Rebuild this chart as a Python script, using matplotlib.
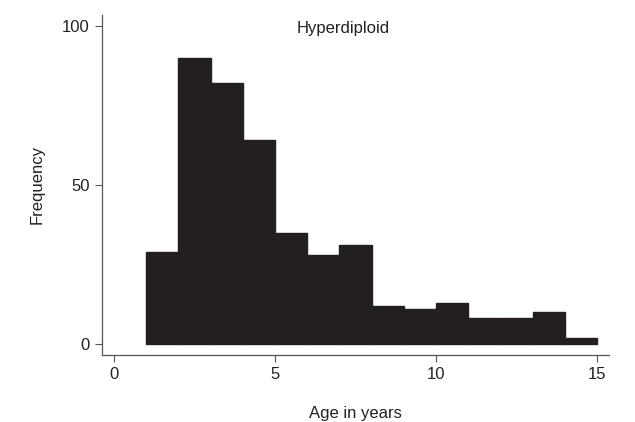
#!/usr/bin/env python3

"""Histogram of age at diagnosis, hyperdiploid group."""

import matplotlib
matplotlib.use("Agg")
import matplotlib.pyplot as plt

bin_left = [1, 2, 3, 4, 5, 6, 7, 8, 9, 10, 11, 12, 13, 14]
counts = [29, 90, 82, 64, 35, 28, 31, 12, 11, 13, 8, 8, 10, 2]
x_ticks = [0, 5, 10, 15]
y_ticks = [0, 50, 100]

plt.rcParams["font.family"] = ["Liberation Sans", "DejaVu Sans"]

fig = plt.figure(figsize=(6.35, 4.22), dpi=100)
ax = fig.add_axes([0.1606, 0.1588, 0.7984, 0.8057])

ax.bar(bin_left, counts, width=1.0, align="edge", color="#231f20",
       edgecolor="#231f20", linewidth=1.0)

ax.set_xlim(-0.37, 15.37)
ax.set_ylim(-3.5, 103.5)
ax.set_xticks(x_ticks)
ax.set_yticks(y_ticks)
ax.tick_params(axis="both", labelsize=12, length=5, width=0.8,
               color="#555555", labelcolor="#222222", pad=4)

for side in ("top", "right"):
    ax.spines[side].set_visible(False)
for side in ("left", "bottom"):
    ax.spines[side].set_color("#555555")
    ax.spines[side].set_linewidth(0.9)

ax.text(0.476, 0.959, "Hyperdiploid", transform=ax.transAxes,
        ha="center", va="center", fontsize=12, color="#222222")
ax.set_xlabel("Age in years", fontsize=12, labelpad=17, color="#222222")
ax.set_ylabel("Frequency", fontsize=12, labelpad=12, color="#222222")

fig.savefig("out.png", dpi=100)
plt.close(fig)
